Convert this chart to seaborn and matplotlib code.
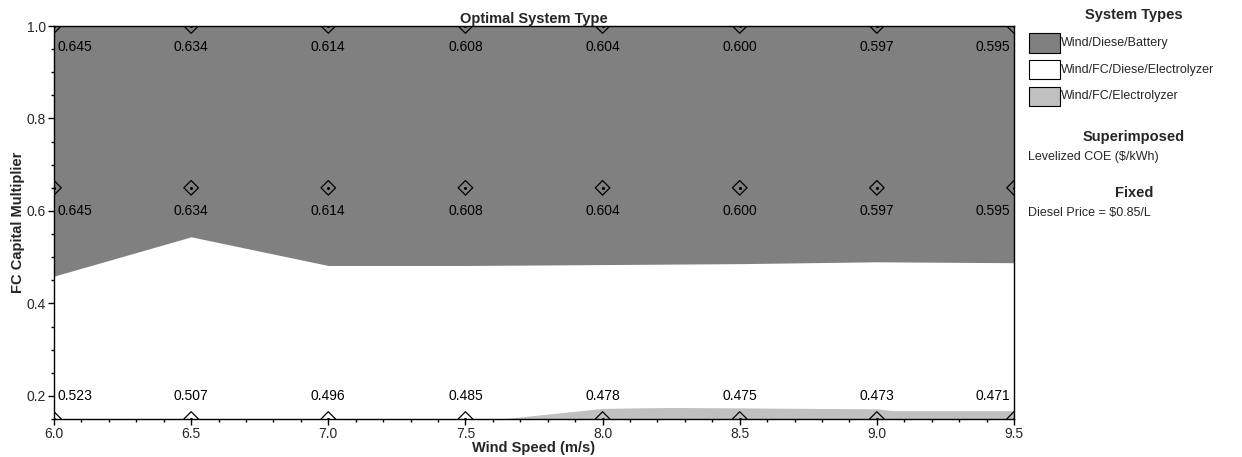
import numpy as np
import pandas as pd
import matplotlib
matplotlib.use("Agg")
import matplotlib.pyplot as plt
from matplotlib.patches import Rectangle
from matplotlib.ticker import MultipleLocator
import seaborn as sns

# data
wind_speeds = [6.0, 6.5, 7.0, 7.5, 8.0, 8.5, 9.0, 9.5]
fc_levels = [1.0, 0.65, 0.15]
coe_top = [0.645, 0.634, 0.614, 0.608, 0.604, 0.600, 0.597, 0.595]
coe_mid = [0.645, 0.634, 0.614, 0.608, 0.604, 0.600, 0.597, 0.595]
coe_low = [0.523, 0.507, 0.496, 0.485, 0.478, 0.475, 0.473, 0.471]

# boundary between Wind/Diese/Battery (above) and Wind/FC/Diese/Electrolyzer
battery_bound = [0.459, 0.544, 0.482, 0.482, 0.484, 0.486, 0.490, 0.488]
# top of the Wind/FC/Electrolyzer region
elec_x = [7.63, 8.0, 8.25, 8.5, 9.0, 9.06, 9.5]
elec_y = [0.150, 0.173, 0.175, 0.174, 0.172, 0.168, 0.168]

system_types = ["Wind/Diese/Battery", "Wind/FC/Diese/Electrolyzer", "Wind/FC/Electrolyzer"]
system_colors = ["#808080", "#ffffff", "#c0c0c0"]

Y_MIN, Y_MAX = 0.15, 1.0

sns.set_theme(style="white")
plt.rcParams["font.family"] = ["Liberation Sans", "DejaVu Sans"]
plt.rcParams["font.size"] = 10

fig = plt.figure(figsize=(12.42, 4.57), dpi=100)
ax = fig.add_axes([54 / 1242, 1 - 419 / 457, 960 / 1242, 393 / 457])

ax.fill_between(wind_speeds, Y_MIN, Y_MAX, color=system_colors[1], lw=0)
ax.fill_between(wind_speeds, battery_bound, Y_MAX, color=system_colors[0], lw=0)
ax.fill_between(elec_x, Y_MIN, elec_y, color=system_colors[2], lw=0)

pts = pd.DataFrame(
    [(w, f) for f in fc_levels for w in wind_speeds], columns=["wind", "fc"]
)
sns.scatterplot(data=pts, x="wind", y="fc", marker="D", s=55, clip_on=True,
                facecolor="none", edgecolor="black", linewidth=0.9, ax=ax, zorder=5)
sns.scatterplot(data=pts, x="wind", y="fc", marker="o", s=5, clip_on=True,
                color="black", linewidth=0, ax=ax, zorder=6)

for level, vals, dy in [(1.0, coe_top, -21), (0.65, coe_mid, -23), (0.15, coe_low, 23)]:
    for i, (w, v) in enumerate(zip(wind_speeds, vals)):
        ha = "left" if i == 0 else ("right" if i == len(wind_speeds) - 1 else "center")
        dx = 3 if i == 0 else (-4 if i == len(wind_speeds) - 1 else 0)
        ax.annotate(f"{v:.3f}", (w, level), xytext=(dx, dy), textcoords="offset pixels",
                    ha=ha, va="center", fontsize=10, color="black", zorder=7)

ax.set_xlim(6.0, 9.5)
ax.set_ylim(Y_MIN, Y_MAX)
ax.set_xticks(wind_speeds)
ax.set_xticklabels([f"{w:.1f}" for w in wind_speeds])
ax.set_yticks([0.2, 0.4, 0.6, 0.8, 1.0])
ax.set_yticklabels(["0.2", "0.4", "0.6", "0.8", "1.0"])
ax.xaxis.set_minor_locator(MultipleLocator(0.1))
ax.yaxis.set_minor_locator(MultipleLocator(0.05))
ax.tick_params(which="major", direction="out", length=4, width=1, color="black",
               labelsize=10, pad=2, bottom=True, left=True)
ax.tick_params(which="minor", direction="out", length=2, width=1, color="black",
               bottom=True, left=True)
for sp in ax.spines.values():
    sp.set_color("black")
    sp.set_linewidth(1)

ax.set_xlabel("Wind Speed (m/s)", fontweight="bold", fontsize=10.5, labelpad=0)
ax.set_ylabel("FC Capital Multiplier", fontweight="bold", fontsize=10.5, labelpad=1)
ax.set_title("Optimal System Type", fontweight="bold", fontsize=10.5, pad=1)

# side legend
def fx(px):
    return px / 1242

def fy(py):
    return 1 - py / 457

fig.text(fx(1134), fy(15), "System Types", ha="center", va="center",
         fontweight="bold", fontsize=10.5)
for k, (name, col) in enumerate(zip(system_types, system_colors)):
    mid = 43 + k * 26.5
    fig.patches.append(Rectangle((fx(1029), fy(mid + 9.5)), fx(31), 19 / 457,
                                 transform=fig.transFigure, facecolor=col,
                                 edgecolor="black", linewidth=0.8))
    fig.text(fx(1061), fy(mid), name, ha="left", va="center", fontsize=9)
fig.text(fx(1134), fy(137), "Superimposed", ha="center", va="center",
         fontweight="bold", fontsize=10.5)
fig.text(fx(1028), fy(157), "Levelized COE ($/kWh)", ha="left", va="center", fontsize=9)
fig.text(fx(1134), fy(193), "Fixed", ha="center", va="center",
         fontweight="bold", fontsize=10.5)
fig.text(fx(1028), fy(213), "Diesel Price = $0.85/L", ha="left", va="center", fontsize=9)

fig.savefig("out.png", dpi=100)
